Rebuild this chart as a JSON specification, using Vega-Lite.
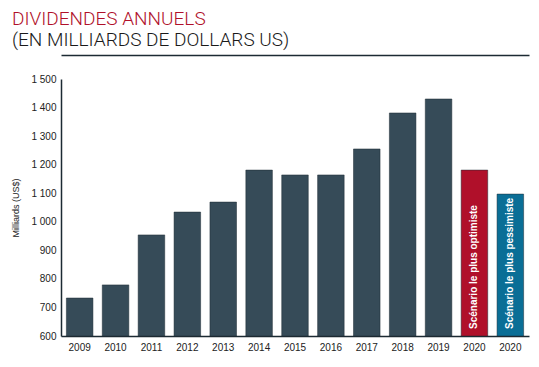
{
  "$schema": "https://vega.github.io/schema/vega-lite/v6.json",
  "width": 468,
  "height": 257,
  "padding": {"left": 11, "top": 10, "right": 4, "bottom": 5},
  "background": "white",
  "config": {"view": {"stroke": null}, "font": "Liberation Sans"},
  "title": {
    "text": "DIVIDENDES ANNUELS",
    "subtitle": "(EN MILLIARDS DE DOLLARS US)",
    "anchor": "start",
    "frame": "bounds",
    "font": "Roboto",
    "fontSize": 19,
    "fontWeight": 300,
    "color": "#b0102a",
    "subtitleFont": "Roboto",
    "subtitleFontSize": 19,
    "subtitleFontWeight": 300,
    "subtitleColor": "#1a1a1a",
    "subtitlePadding": 2,
    "offset": 5
  },
  "resolve": {"axis": {"x": "independent"}},
  "data": {
    "values": [
      {"cat": "2009", "label": "2009", "value": 733, "kind": "hist", "note": ""},
      {"cat": "2010", "label": "2010", "value": 779, "kind": "hist", "note": ""},
      {"cat": "2011", "label": "2011", "value": 954, "kind": "hist", "note": ""},
      {"cat": "2012", "label": "2012", "value": 1034, "kind": "hist", "note": ""},
      {"cat": "2013", "label": "2013", "value": 1069, "kind": "hist", "note": ""},
      {"cat": "2014", "label": "2014", "value": 1181, "kind": "hist", "note": ""},
      {"cat": "2015", "label": "2015", "value": 1164, "kind": "hist", "note": ""},
      {"cat": "2016", "label": "2016", "value": 1164, "kind": "hist", "note": ""},
      {"cat": "2017", "label": "2017", "value": 1255, "kind": "hist", "note": ""},
      {"cat": "2018", "label": "2018", "value": 1381, "kind": "hist", "note": ""},
      {"cat": "2019", "label": "2019", "value": 1430, "kind": "hist", "note": ""},
      {"cat": "2020 opt", "label": "2020", "value": 1181, "kind": "opt", "note": "Scénario le plus optimiste"},
      {"cat": "2020 pes", "label": "2020", "value": 1097, "kind": "pes", "note": "Scénario le plus pessimiste"}
    ]
  },
  "layer": [
    {
      "mark": {"type": "bar", "stroke": "#1c2a33", "strokeWidth": 0.5},
      "encoding": {
        "x": {
          "field": "cat",
          "type": "nominal",
          "sort": null,
          "scale": {"paddingInner": 0.26, "paddingOuter": 0.15},
          "axis": {
            "title": null,
            "labelAngle": 0,
            "labelExpr": "slice(datum.label, 0, 4)",
            "labelFontSize": 10,
            "labelColor": "#222222",
            "labelPadding": 6,
            "ticks": false,
            "domainColor": "#1c2a33",
            "domainWidth": 1.5
          }
        },
        "y": {
          "field": "value",
          "type": "quantitative",
          "scale": {"domain": [600, 1500], "nice": false, "zero": false},
          "axis": {
            "title": "Milliards (US$)",
            "titleFontSize": 9,
            "titleFontWeight": "normal",
            "titleColor": "#222222",
            "titlePadding": 10,
            "values": [600, 700, 800, 900, 1000, 1100, 1200, 1300, 1400, 1500],
            "labelOverlap": false,
            "labelExpr": "replace(format(datum.value, ','), ',', ' ')",
            "labelFontSize": 10,
            "labelColor": "#222222",
            "labelPadding": 5,
            "ticks": false,
            "grid": false,
            "domainColor": "#1c2a33",
            "domainWidth": 1.5
          }
        },
        "y2": {"datum": 600},
        "color": {
          "field": "kind",
          "type": "nominal",
          "scale": {"domain": ["hist", "opt", "pes"], "range": ["#364b58", "#b0102a", "#0a6e96"]},
          "legend": null
        }
      }
    },
    {
      "mark": {"type": "text", "angle": 270, "align": "left", "baseline": "middle", "dx": 7, "color": "white", "fontSize": 10, "fontWeight": "bold"},
      "encoding": {
        "x": {"field": "cat", "type": "nominal", "sort": null, "axis": null},
        "y": {
          "datum": 600,
          "type": "quantitative",
          "axis": {
            "title": "Milliards (US$)",
            "titleFontSize": 9,
            "titleFontWeight": "normal",
            "titleColor": "#222222",
            "titlePadding": 10,
            "values": [600, 700, 800, 900, 1000, 1100, 1200, 1300, 1400, 1500],
            "labelOverlap": false,
            "labelExpr": "replace(format(datum.value, ','), ',', ' ')",
            "labelFontSize": 10,
            "labelColor": "#222222",
            "labelPadding": 5,
            "ticks": false,
            "grid": false,
            "domainColor": "#1c2a33",
            "domainWidth": 1.5
          }
        },
        "text": {"field": "note"}
      }
    },
    {
      "mark": {"type": "rule", "opacity": 0},
      "encoding": {
        "x": {
          "field": "cat",
          "type": "nominal",
          "sort": null,
          "axis": {"orient": "top", "title": null, "labels": false, "ticks": false, "domainColor": "#1c2a33", "domainWidth": 1.5, "offset": 24}
        }
      }
    }
  ]
}
